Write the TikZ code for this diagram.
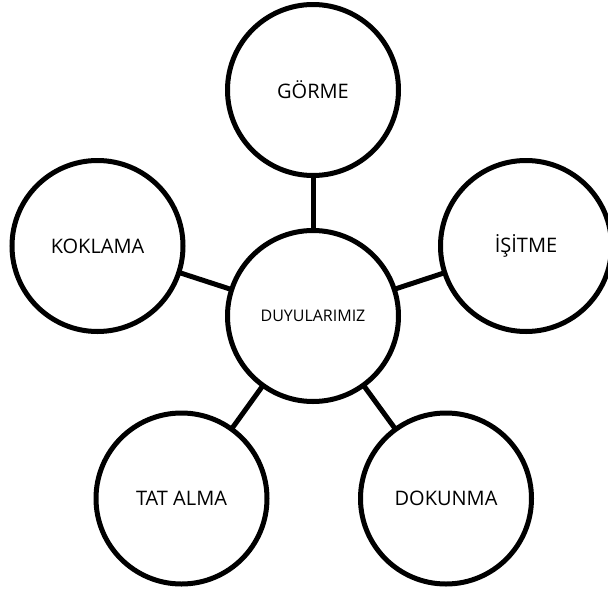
\documentclass[tikz,border=0pt]{standalone}
\usepackage{fontspec}
\setmainfont{Open Sans}
\begin{document}
\begin{tikzpicture}[x=1pt,y=-1pt,
  bubble/.style={circle,draw=black,line width=5pt,fill=white,minimum size=171pt,inner sep=0pt,font=\fontsize{20}{24}\selectfont},
  hub/.style={bubble,font=\fontsize{16}{19}\selectfont},
  link/.style={draw=black,line width=5pt}]
\useasboundingbox (0,0) rectangle (608,592);
\fill[white] (0,0) rectangle (608,592);
\coordinate (cc) at (313,316);
\draw[link] (cc) -- (313,90);
\draw[link] (cc) -- (97.5,246);
\draw[link] (cc) -- (526,246);
\draw[link] (cc) -- (181.5,498.5);
\draw[link] (cc) -- (446,498.5);
\node[hub] (c) at (cc) {DUYULARIMIZ};
\node[bubble] (g) at (313,90) {GÖRME};
\node[bubble] (k) at (97.5,246) {KOKLAMA};
\node[bubble] (i) at (526,246) {İŞİTME};
\node[bubble] (t) at (181.5,498.5) {TAT ALMA};
\node[bubble] (d) at (446,498.5) {DOKUNMA};
\end{tikzpicture}
\end{document}
